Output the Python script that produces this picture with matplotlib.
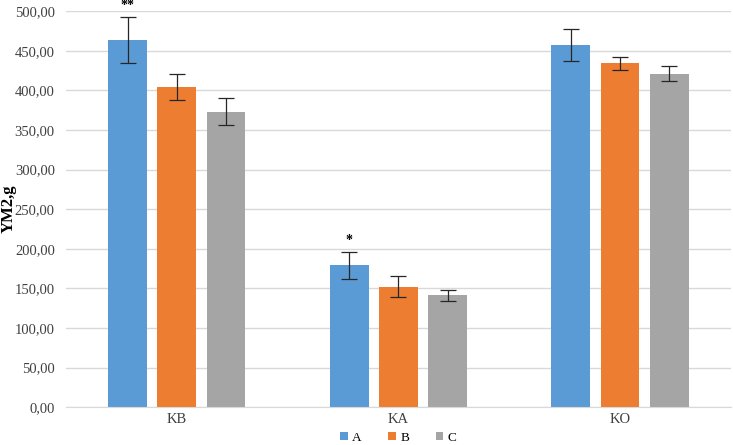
import matplotlib.pyplot as plt
import numpy as np

# Dados
grupos = ['KB', 'KA', 'KO']
series = ['A', 'B', 'C']
medias_A = [464, 179, 457]
medias_B = [404, 152, 434]
medias_C = [373, 141, 421]
erros_A = [29, 17.5, 20]
erros_B = [16.5, 13, 8]
erros_C = [17, 7, 9.5]
marcas = ['**', '*', '']

cores = ['#5B9BD5', '#ED7D31', '#A5A5A5']

plt.rcParams['font.family'] = ['Liberation Serif', 'DejaVu Serif']

fig = plt.figure(figsize=(7.33, 4.45), dpi=100)
ax = fig.add_axes([0.09, 0.085, 0.907, 0.89])

x = np.arange(len(grupos))
largura = 0.175
desloc = 0.222
medias = [medias_A, medias_B, medias_C]
erros = [erros_A, erros_B, erros_C]

for i, (nome, m, e, c) in enumerate(zip(series, medias, erros, cores)):
    ax.bar(x + (i - 1) * desloc, m, largura, color=c, label=nome, zorder=2,
           yerr=e, error_kw=dict(ecolor='#262626', elinewidth=0.9, capsize=5.5, capthick=0.9))

# Asteriscos de significância
for xi, m, e, s in zip(x, medias_A, erros_A, marcas):
    if s:
        ax.text(xi - desloc, m + e + 6, s, ha='center', va='bottom', fontsize=10, fontweight='bold')

ax.set_xlim(-0.5, 2.5)
ax.set_ylim(0, 500)
ax.set_yticks(np.arange(0, 501, 50))
ax.set_yticklabels([f'{v:.2f}'.replace('.', ',') for v in np.arange(0, 501, 50)])
ax.set_xticks(x)
ax.set_xticklabels(grupos)
ax.tick_params(axis='both', length=0, labelsize=10.5, colors='#404040', pad=8)
ax.tick_params(axis='x', pad=4)
ax.set_ylabel('YM2,g', fontsize=12, fontweight='bold')
ax.yaxis.set_label_coords(-0.074, 0.5)

ax.grid(axis='y', color='#d9d9d9', linewidth=1, zorder=0)
for s in ['top', 'right', 'left']:
    ax.spines[s].set_visible(False)
ax.spines['bottom'].set_color('#d9d9d9')

ax.legend(loc='upper center', bbox_to_anchor=(0.5, -0.062), ncol=3, frameon=False,
          handlelength=0.6, handleheight=0.6, handletextpad=0.3, columnspacing=2.0,
          fontsize=9.5, borderaxespad=0, borderpad=0)

plt.savefig('out.png', dpi=100)
